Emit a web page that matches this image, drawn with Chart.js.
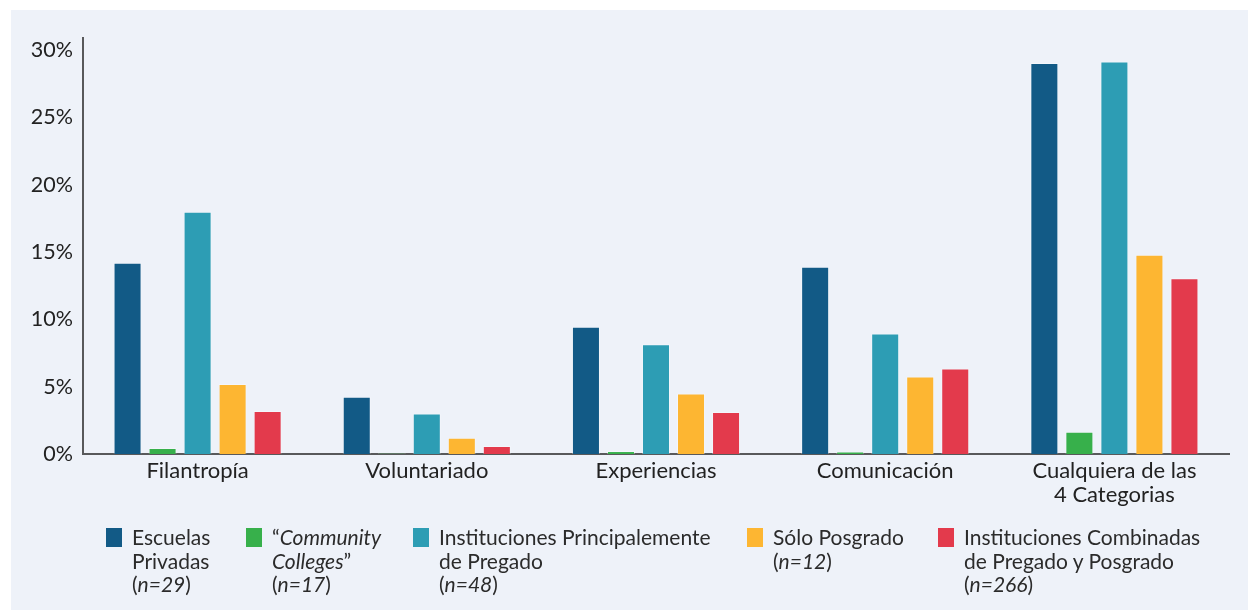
<!DOCTYPE html>
<html>
<head>
<meta charset="utf-8">
<script src="https://cdn.jsdelivr.net/npm/chart.js@4/dist/chart.umd.min.js"></script>
<style>
  body { margin: 0; background: #fff; font-family: Lato, "Noto Sans", sans-serif; }
  #panel { position: absolute; left: 11px; top: 10px; width: 1237px; height: 600px; background: #eef2f9; }
  #wrap { position: absolute; left: 0; top: 0; width: 1237px; height: 520px; }
  .item { position: absolute; top: 515px; font-size: 21px; line-height: 23.5px; color: #2b2b2b; }
  .sw { position: absolute; top: 3px; width: 16px; height: 19px; }
</style>
</head>
<body>
<div id="panel">
  <div id="wrap"><canvas id="chart"></canvas></div>
  <div id="legend"></div>
</div>
<script>
const categories = ['Filantropía', 'Voluntariado', 'Experiencias', 'Comunicación', ['Cualquiera de las', '4 Categorias']];
const yTicks = [0, 5, 10, 15, 20, 25, 30];

const escuelasPrivadas = [14.2, 4.25, 9.45, 13.9, 29.05];
const communityColleges = [0.45, 0.05, 0.22, 0.18, 1.65];
const pregado = [18.0, 3.0, 8.15, 8.95, 29.15];
const soloPosgrado = [5.2, 1.2, 4.5, 5.75, 14.8];
const combinadas = [3.2, 0.6, 3.12, 6.35, 13.05];

const colors = ['#125a86', '#37b04b', '#2d9db4', '#fdb632', '#e33a4c'];

// leyenda en HTML (texto en varias líneas con cursivas)
const legendItems = [
    { x: 95, html: 'Escuelas<br>Privadas<br>(<i>n=29</i>)' },
    { x: 235, html: '“<i>Community</i><br><i>Colleges</i>”<br>(<i>n=17</i>)' },
    { x: 402, html: 'Instituciones Principalemente<br>de Pregado<br>(<i>n=48</i>)' },
    { x: 736, html: 'Sólo Posgrado<br>(<i>n=12</i>)' },
    { x: 927, html: 'Instituciones Combinadas<br>de Pregado y Posgrado<br>(<i>n=266</i>)' }
];

const legend = document.getElementById('legend');
legendItems.forEach((it, i) => {
    const d = document.createElement('div');
    d.className = 'item';
    d.style.left = it.x + 'px';
    d.innerHTML = `<span class="sw" style="left:0;background:${colors[i]}"></span><div style="margin-left:26px">${it.html}</div>`;
    legend.appendChild(d);
});

const ctx = document.getElementById('chart').getContext('2d');
const series = [escuelasPrivadas, communityColleges, pregado, soloPosgrado, combinadas];

new Chart(ctx, {
    type: 'bar',
    data: {
        labels: categories,
        datasets: series.map((s, i) => ({
            data: s,
            backgroundColor: colors[i],
            borderColor: 'rgba(255,255,255,0.3)',
            borderWidth: 1,
            categoryPercentage: 0.764,
            barPercentage: 0.8
        }))
    },
    options: {
        responsive: true,
        maintainAspectRatio: false,
        animation: false,
        layout: { padding: { top: 28, right: 19, left: 0, bottom: 0 } },
        plugins: {
            legend: { display: false },
            tooltip: { enabled: false }
        },
        scales: {
            x: {
                grid: { display: false, drawTicks: false },
                border: { display: true, color: '#58595b', width: 2 },
                ticks: {
                    color: '#222',
                    padding: 5,
                    maxRotation: 0,
                    autoSkip: false,
                    font: { family: 'Lato', size: 22, lineHeight: 1.1 }
                },
                afterFit: s => { s.height = 76; }
            },
            y: {
                min: 0,
                max: 30.9,
                grid: { display: false, drawTicks: false },
                border: { display: true, color: '#58595b', width: 2 },
                afterBuildTicks: s => { s.ticks = yTicks.map(v => ({ value: v })); },
                afterFit: s => { s.width = 72; },
                ticks: {
                    color: '#222',
                    padding: 10,
                    font: { family: 'Lato', size: 21.5 },
                    callback: v => v + '%'
                }
            }
        }
    }
});
</script>
</body>
</html>
